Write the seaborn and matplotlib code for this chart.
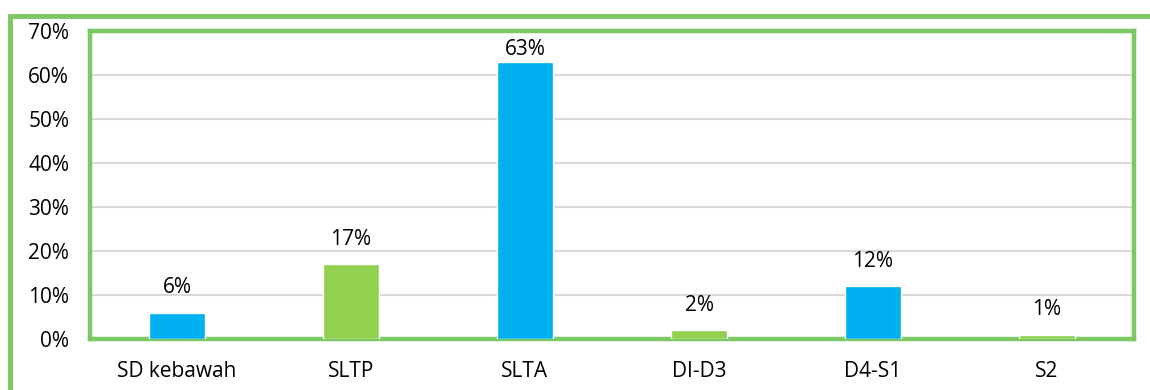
import matplotlib
matplotlib.use("Agg")
import matplotlib.pyplot as plt
import seaborn as sns
import pandas as pd
from matplotlib.patches import Rectangle

categories = ["SD kebawah", "SLTP", "SLTA", "DI-D3", "D4-S1", "S2"]
values = [6, 17, 63, 2, 12, 1]
bar_colors = ["#00B0F0", "#92D050", "#00B0F0", "#92D050", "#00B0F0", "#92D050"]
yticks = [0, 10, 20, 30, 40, 50, 60, 70]
ytick_labels = ["0%", "10%", "20%", "30%", "40%", "50%", "60%", "70%"]

sns.set_theme(style="white")
plt.rcParams['font.family'] = ['Open Sans', 'DejaVu Sans']

FS = 15
green = "#7CC864"
fig = plt.figure(figsize=(11.5, 3.9), dpi=100)
ax = fig.add_axes([90/1150, 51/390, (1134-90)/1150, (339-31)/390])

df = pd.DataFrame({"cat": categories, "val": values})
sns.barplot(data=df, x="cat", y="val", hue="cat", palette=bar_colors,
            width=0.32, ax=ax, legend=False, saturation=1, zorder=3)

ax.set_ylim(0, 70)
ax.set_yticks(yticks)
ax.set_yticklabels(ytick_labels, fontsize=FS, color="black")
ax.set_xlabel("")
ax.set_ylabel("")
ax.tick_params(axis='y', length=0, pad=15, labelcolor="black")
ax.tick_params(axis='x', length=0, pad=16, labelcolor="black")
for t in ax.get_xticklabels():
    t.set_fontsize(FS)
ax.yaxis.grid(True, color="#D9D9D9", linewidth=1.5, zorder=0)
ax.set_axisbelow(True)
for s in ax.spines.values():
    s.set_color(green)
    s.set_linewidth(3.2)
    s.set_visible(True)

for i, v in enumerate(values):
    y = min(v + 5.6, 65.7)
    ax.text(i, y, f"{v}%", ha="center", va="center", fontsize=FS, color="black")

fig.patches.append(Rectangle((10/1150, -0.1), 1.2, (390-16)/390 + 0.1,
                             transform=fig.transFigure, fill=False,
                             edgecolor=green, linewidth=3.5, clip_on=False))

fig.savefig("out.png", dpi=100)
